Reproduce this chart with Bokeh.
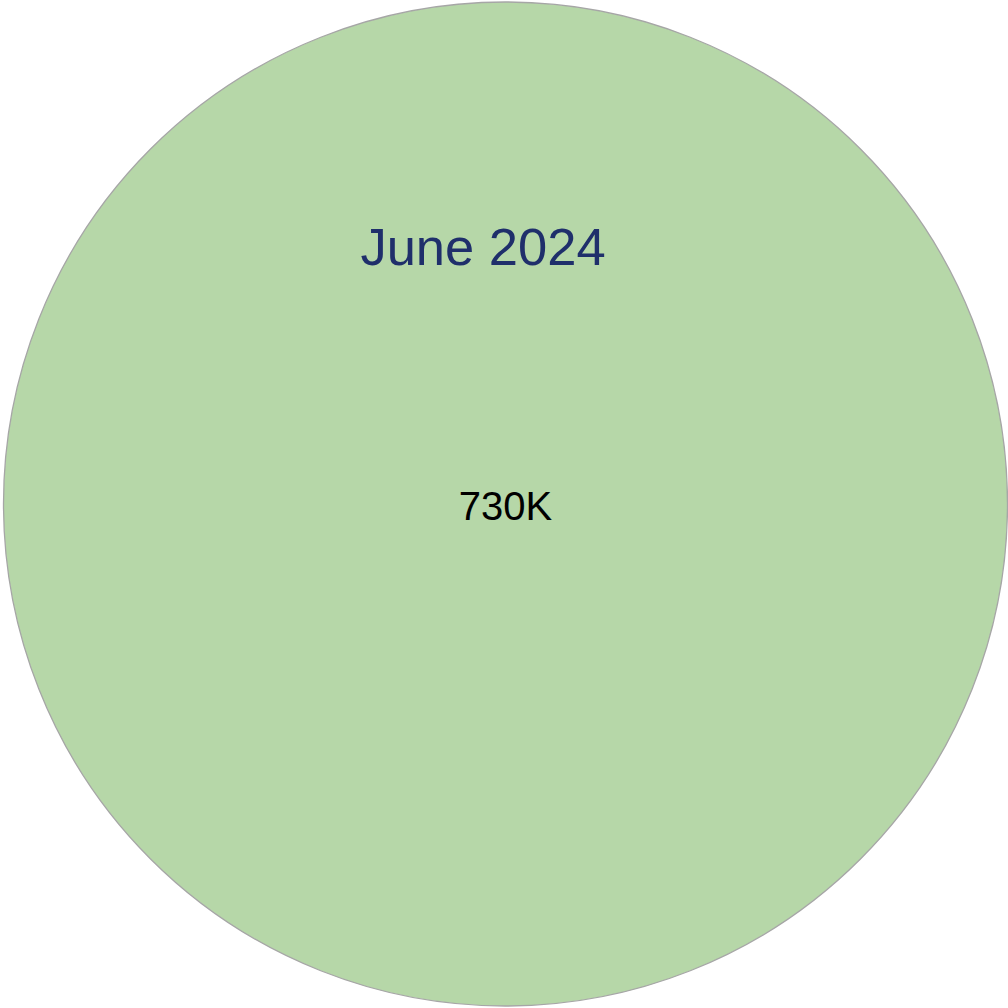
import math
from bokeh.plotting import figure
from bokeh.models import ColumnDataSource, Range1d
from bokeh.core.properties import value
from bokeh.embed import file_html
from bokeh.resources import INLINE

# Data
categories = ["June 2024"]
values = [730000]
labels = ["730K"]
colors = ["#b6d7a8"]

total = sum(values)
starts, ends = [], []
acc = 0.0
for v in values:
    starts.append(acc / total * 2 * math.pi)
    acc += v
    ends.append(acc / total * 2 * math.pi)

W = 1008
H = 1008
cx, cy, r = 505, 504.5, 502

src = ColumnDataSource(dict(cat=categories, val=values, label=labels, color=colors,
                            start=starts, end=ends))

p = figure(width=W, height=H, output_backend="svg", toolbar_location=None,
           x_range=Range1d(0, W), y_range=Range1d(0, H), min_border=0,
           styles={"position": "absolute", "left": "0px", "top": "0px"})
p.axis.visible = False
p.grid.visible = False
p.outline_line_color = None
p.background_fill_color = "white"
p.border_fill_color = "white"

p.wedge(x=cx, y=cy, radius=r, start_angle="start", end_angle="end",
        fill_color="color", line_color=None, source=src)
p.circle(x=cx, y=cy, radius=r, fill_color=None, line_color="#a6a6a6", line_width=1.3)

p.text(x=cx, y=H - 505, text="label", source=src, text_align="center", text_baseline="middle",
       text_font=value("Liberation Sans"), text_font_size="40px", text_color="#000000")
p.text(x=482.5, y=H - 246, text="cat", source=src, text_align="center", text_baseline="middle",
       text_font=value("Liberation Sans"), text_font_size="52.5px", text_color="#1f2f6b")

open("out.html", "w").write(file_html(p, INLINE))
